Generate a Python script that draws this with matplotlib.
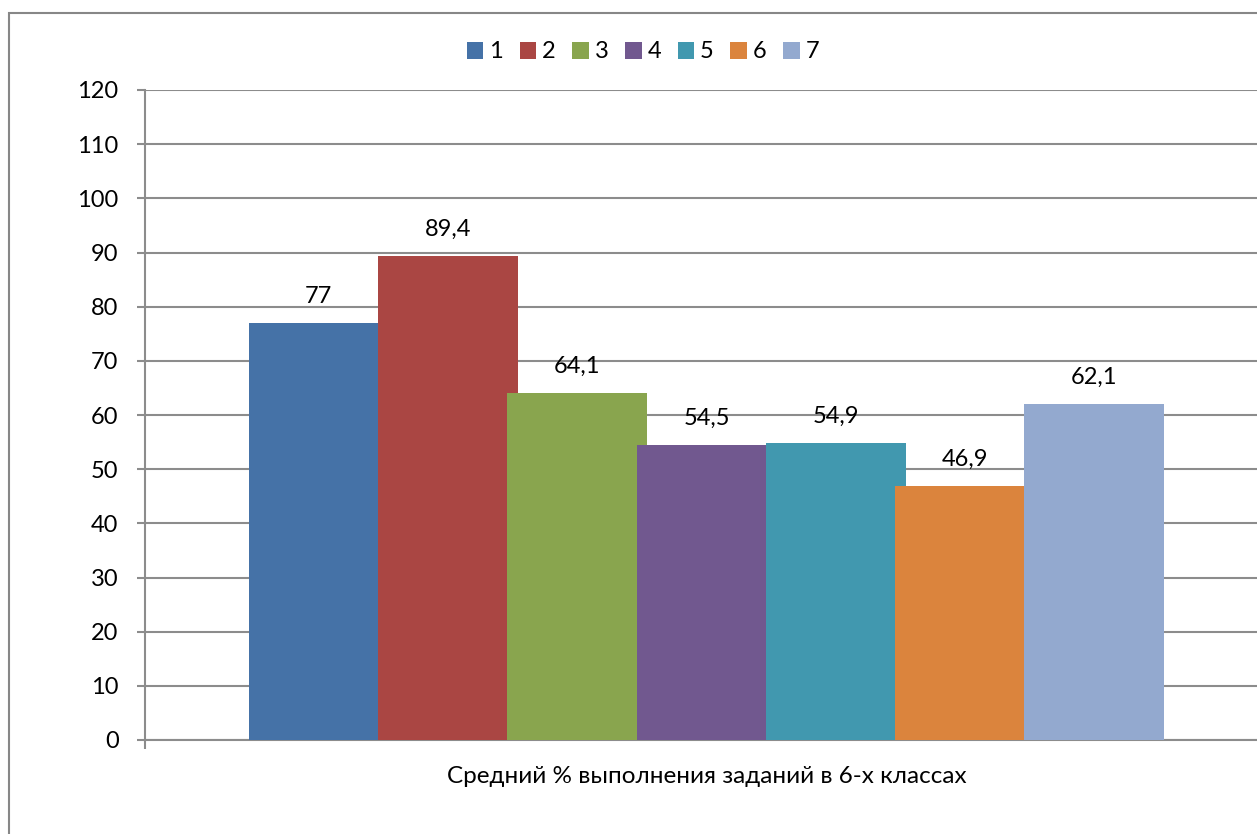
import numpy as np
import matplotlib.pyplot as plt
from matplotlib.patches import Rectangle

plt.rcParams['font.family'] = ['Lato', 'DejaVu Sans']

series = ["1", "2", "3", "4", "5", "6", "7"]
values = [77, 89.4, 64.1, 54.5, 54.9, 46.9, 62.1]
colors = ["#4572A7", "#AA4643", "#89A54E", "#71588F", "#4198AF", "#DB843D", "#93A9CF"]
category = "Средний % выполнения заданий в 6-х классах"
yticks = list(range(0, 121, 10))

fig = plt.figure(figsize=(12.57, 8.34), dpi=100)
ax = fig.add_axes([145 / 1257, 1 - 740 / 834, 1123 / 1257, 650 / 834])

# outer chart border (runs off the right and bottom like the source)
fig.patches.append(Rectangle((9 / 1257, -0.1), 1.2, 1 - 13 / 834 + 0.1,
                             transform=fig.transFigure, fill=False,
                             edgecolor="#878787", linewidth=1.5))

grid_c = "#8c8c8c"
x = np.arange(len(series))
for i in range(len(series)):
    ax.bar(x[i], values[i], width=1.08, color=colors[i], label=series[i], zorder=3 + i)
    txt = ("%g" % values[i]).replace(".", ",")
    ax.annotate(txt, (x[i], values[i]), xytext=(0, 19), textcoords="offset points",
                ha="center", va="center", fontsize=17, color="#000000", zorder=20)

ax.set_xlim(-1.345, 7.345)
ax.set_ylim(0, 120)
ax.set_yticks(yticks)
ax.yaxis.grid(True, color=grid_c, linewidth=1.5, zorder=0)
ax.set_axisbelow(True)
ax.tick_params(axis="y", direction="out", length=6, width=1.5, color=grid_c,
               labelsize=17, pad=13)

ax.set_xticks([3])
ax.set_xticklabels([category])
ax.set_xticks([-1.345, 7.345], minor=True)
ax.tick_params(axis="x", which="major", length=0, labelsize=17.5, pad=19)
ax.tick_params(axis="x", which="minor", direction="out", length=6.5, width=1.5, color=grid_c)

for s in ["top", "right"]:
    ax.spines[s].set_visible(False)
for s in ["left", "bottom"]:
    ax.spines[s].set_color(grid_c)
    ax.spines[s].set_linewidth(1.5)

ax.legend(loc="center", bbox_to_anchor=(643 / 1257, 1 - 52 / 834),
          bbox_transform=fig.transFigure, ncol=7, frameon=False, fontsize=17,
          handlelength=0.7, handleheight=0.7, handletextpad=0.25, columnspacing=0.7,
          borderaxespad=0)

fig.savefig("out.png", dpi=100)
